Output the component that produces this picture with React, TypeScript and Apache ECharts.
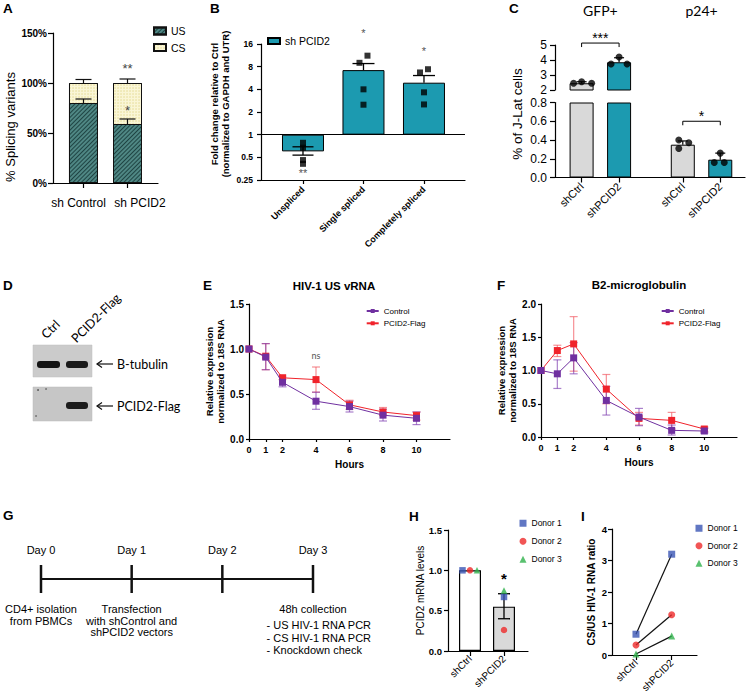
import React, { useEffect, useRef } from 'react';
import * as echarts from 'echarts';

const FONT = '"Liberation Sans", Arial, Helvetica, sans-serif';
const FONT_H = 'Lato, "Open Sans", "Liberation Sans", sans-serif';

// ---------- Panel A ----------
const aCategories = ['sh Control', 'sh PCID2'];
const aUS = [80, 59];
const aCS = [20, 41];
const aUSErrTop = [84, 64];
const aTotalErrTop = [103.5, 104];
const aStarCat = [1, 1];
const aStarY = [115, 73];
const aStarText = ['**', '*'];

// ---------- Panel B ----------
const bCategories = ['Unspliced', 'Single spliced', 'Completely spliced'];
const bMeans = [0.6, 7.2, 4.9];
const bErrLow = [0.535, 7.2, 4.9];
const bErrHigh = [0.69, 8.8, 6.1];
const bPoints = [
  [0.78, 0.67, 0.46, 0.41],
  [11.2, 9.0, 4.0, 2.5],
  [6.7, 7.4, 3.65, 2.52],
];
const bStarText = ['**', '*', '*'];
const bStarY = [0.31, 22.5, 12.8];

// ---------- Panel C ----------
const cCategories = ['shCtrl', 'shPCID2', 'shCtrl', 'shPCID2'];
const cGroups = ['GFP+', 'p24+'];
const cMeans = [2.45, 3.85, 0.35, 0.19];
const cErrHigh = [2.55, 4.15, 0.39, 0.26];
const cPoints = [
  [2.45, 2.55, 2.45],
  [3.73, 4.2, 3.73],
  [0.4, 0.37, 0.31],
  [0.16, 0.26, 0.16],
];
const cStars = ['***', '*'];

// ---------- Panel D ----------
const dLanes = ['Ctrl', 'PCID2-Flag'];
const dTargets = ['B-tubulin', 'PCID2-Flag'];

// ---------- Panels E / F ----------
const hours = [0, 1, 2, 4, 6, 8, 10];
const efNames = ['Control', 'PCID2-Flag'];
const eControl = [1.0, 0.91, 0.63, 0.42, 0.36, 0.265, 0.23];
const eControlLo = [1.0, 0.77, 0.58, 0.33, 0.3, 0.2, 0.16];
const eControlHi = [1.0, 1.06, 0.69, 0.52, 0.42, 0.33, 0.3];
const ePCID2 = [1.0, 0.92, 0.68, 0.66, 0.38, 0.3, 0.26];
const ePCID2Lo = [1.0, 0.77, 0.66, 0.52, 0.33, 0.26, 0.21];
const ePCID2Hi = [1.0, 1.06, 0.71, 0.8, 0.43, 0.35, 0.3];
const fControl = [1.0, 0.95, 1.19, 0.55, 0.3, 0.1, 0.09];
const fControlLo = [1.0, 0.73, 0.95, 0.33, 0.17, 0.03, 0.06];
const fControlHi = [1.0, 1.16, 1.42, 0.76, 0.43, 0.18, 0.13];
const fPCID2 = [1.0, 1.3, 1.4, 0.72, 0.28, 0.25, 0.12];
const fPCID2Lo = [1.0, 1.21, 0.99, 0.5, 0.18, 0.12, 0.08];
const fPCID2Hi = [1.0, 1.38, 1.81, 0.94, 0.37, 0.37, 0.15];

// ---------- Panel G ----------
const gDays = ['Day 0', 'Day 1', 'Day 2', 'Day 3'];
const gNotes = ['CD4+ isolation\nfrom PBMCs', 'Transfection\nwith shControl and\nshPCID2 vectors', '', '48h collection'];
const gList = ['- US HIV-1 RNA PCR', '- CS HIV-1 RNA PCR', '- Knockdown check'];

// ---------- Panels H / I ----------
const hCategories = ['shCtrl', 'shPCID2'];
const donors = ['Donor 1', 'Donor 2', 'Donor 3'];
const hMeans = [1.0, 0.55];
const hErrLow = [1.0, 0.4];
const hErrHigh = [1.0, 0.71];
const hDonorValues = [
  [1.0, 0.67],
  [1.0, 0.26],
  [1.0, 0.75],
];
const iDonorValues = [
  [0.66, 3.2],
  [0.32, 1.28],
  [0.03, 0.6],
];

// ---------- styling ----------
const TEAL = '#1c9ab0';
const GREY = '#d9d9d9';
const PURPLE = '#7030a0';
const RED = '#f0232b';
const donorColors = ['#3a55b4', '#ee2b2b', '#2fb14b'];
const donorSymbols = ['rect', 'circle', 'triangle'];
const LINE = { color: '#000', width: 1.2 };

const catFmt = (pos: number[], names: string[]) => (v: number) => {
  const i = pos.findIndex((p) => Math.abs(p - v) < 1e-6);
  return i >= 0 ? names[i] : '';
};

function mkAxis(gridIndex: number, o: any) {
  const base: any = {
    gridIndex,
    type: 'value',
    splitLine: { show: false },
    axisLine: { show: true, onZero: false, lineStyle: LINE },
    axisTick: { show: true, length: 4, lineStyle: LINE },
    axisLabel: { color: '#000', fontFamily: FONT, hideOverlap: false },
    nameTextStyle: { color: '#000', fontFamily: FONT },
    nameMoveOverlap: false,
  };
  Object.keys(o).forEach((k) => {
    if (base[k] && typeof base[k] === 'object' && o[k] && typeof o[k] === 'object' && !Array.isArray(o[k])) {
      base[k] = { ...base[k], ...o[k] };
    } else base[k] = o[k];
  });
  return base;
}

function ts(text: string, s: any = {}, align = 'center', vAlign = 'middle') {
  const fill = s.fill || '#000';
  return {
    text,
    fontFamily: FONT,
    align,
    textAlign: align,
    verticalAlign: vAlign,
    textVerticalAlign: vAlign,
    ...s,
    fill,
    textFill: fill,
  };
}

function errorBars(xi: number, yi: number, data: number[][], color: string, capW: number, lw: number, capLow: boolean, z = 4) {
  return {
    type: 'custom',
    xAxisIndex: xi,
    yAxisIndex: yi,
    silent: true,
    z,
    data,
    encode: { x: 0, y: [1, 2] },
    renderItem: (params: any, api: any) => {
      const x = api.value(0);
      const a = api.coord([x, api.value(1)]);
      const b = api.coord([x, api.value(2)]);
      const st = { stroke: color, lineWidth: lw };
      const ch: any[] = [
        { type: 'line', shape: { x1: a[0], y1: a[1], x2: b[0], y2: b[1] }, style: st },
        { type: 'line', shape: { x1: b[0] - capW / 2, y1: b[1], x2: b[0] + capW / 2, y2: b[1] }, style: st },
      ];
      if (capLow) ch.push({ type: 'line', shape: { x1: a[0] - capW / 2, y1: a[1], x2: a[0] + capW / 2, y2: a[1] }, style: st });
      return { type: 'group', children: ch };
    },
  };
}

function texts(xi: number, yi: number, xs: number[], ys: number[], labels: string[], s: any) {
  return {
    type: 'custom',
    xAxisIndex: xi,
    yAxisIndex: yi,
    silent: true,
    z: 10,
    data: xs.map((x, i) => [x, ys[i]]),
    encode: { x: 0, y: 1 },
    renderItem: (params: any, api: any) => {
      const p = api.coord([api.value(0), api.value(1)]);
      return { type: 'text', x: p[0], y: p[1], style: ts(labels[params.dataIndex], s) };
    },
  };
}

function brackets(xi: number, yi: number, data: number[][], drop: number) {
  return {
    type: 'custom',
    xAxisIndex: xi,
    yAxisIndex: yi,
    silent: true,
    z: 6,
    data,
    encode: { x: [0, 1], y: 2 },
    renderItem: (params: any, api: any) => {
      const p0 = api.coord([api.value(0), api.value(2)]);
      const p1 = api.coord([api.value(1), api.value(2)]);
      return {
        type: 'polyline',
        shape: { points: [[p0[0], p0[1] + drop], p0, p1, [p1[0], p1[1] + drop]] },
        style: { stroke: '#000', lineWidth: 1, fill: 'none' },
      };
    },
  };
}

function buildOption() {
  const log2 = Math.log2;
  const series: any[] = [];
  const grid = [
    { left: 53, top: 33, width: 105, height: 150 }, // A
    { left: 261, top: 44, width: 204, height: 136 }, // B
    { left: 555, top: 45, width: 190, height: 45 }, // C upper
    { left: 555, top: 102.5, width: 190, height: 75 }, // C lower
    { left: 249, top: 304, width: 201, height: 135 }, // E
    { left: 541, top: 304, width: 196, height: 133 }, // F
    { left: 41, top: 565, width: 272, height: 28 }, // G
    { left: 448, top: 530, width: 80, height: 121 }, // H
    { left: 612, top: 529, width: 85, height: 126 }, // I
  ].map((g) => ({ ...g, containLabel: false, outerBoundsMode: 'none' }));

  const aX = [0, 1];
  const bX = [0, 1, 2];
  const cX = [0, 1, 2.7, 3.7];
  const hX = [0, 1];
  const f1 = (v: number) => v.toFixed(1);
  const aLabelFmt = (v: number) => {
    const i = aX.findIndex((p) => Math.abs(p - v) < 1e-6);
    if (i < 0) return '';
    return `{${i === 0 ? 'l' : 'r'}|${aCategories[i]}}`;
  };

  const xAxis = [
    mkAxis(0, {
      min: -0.693, max: 1.693,
      axisTick: { customValues: aX, length: 5 },
      axisLabel: {
        customValues: aX, formatter: aLabelFmt, fontSize: 12, margin: 14,
        rich: {
          l: { fontSize: 12, fontFamily: FONT, color: '#000', padding: [0, 10, 0, 0] },
          r: { fontSize: 12, fontFamily: FONT, color: '#000', padding: [0, 0, 0, 25] },
        },
      },
    }),
    mkAxis(1, {
      min: -0.694, max: 2.678,
      axisTick: { customValues: bX, length: 4 },
      axisLabel: { customValues: bX, formatter: catFmt(bX, bCategories), rotate: 45, fontSize: 9, fontWeight: 'bold', margin: 8 },
    }),
    mkAxis(2, { min: -0.71, max: 4.36, show: false }),
    mkAxis(3, {
      min: -0.71, max: 4.36,
      axisTick: { customValues: cX, length: 5 },
      axisLabel: { customValues: cX, formatter: catFmt(cX, cCategories), rotate: 45, fontSize: 11, margin: 7 },
    }),
    mkAxis(4, {
      min: 0, max: 12,
      axisTick: { customValues: hours, length: 3 },
      axisLabel: { customValues: hours, fontSize: 9, fontWeight: 'bold', margin: 6 },
      name: 'Hours', nameLocation: 'middle', nameGap: 20,
      nameTextStyle: { fontSize: 10, fontWeight: 'bold' },
    }),
    mkAxis(5, {
      min: 0, max: 12,
      axisTick: { customValues: hours, length: 3 },
      axisLabel: { customValues: hours, fontSize: 9, fontWeight: 'bold', margin: 6 },
      name: 'Hours', nameLocation: 'middle', nameGap: 20,
      nameTextStyle: { fontSize: 10, fontWeight: 'bold' },
    }),
    { gridIndex: 6, type: 'value', min: 0, max: 3, show: false },
    mkAxis(7, {
      min: -0.647, max: 1.706,
      axisTick: { customValues: hX, length: 5 },
      axisLabel: { customValues: hX, formatter: catFmt(hX, hCategories), rotate: 45, fontSize: 10, margin: 6 },
    }),
    mkAxis(8, {
      min: -0.672, max: 1.709,
      axisTick: { customValues: hX, length: 5 },
      axisLabel: { customValues: hX, formatter: catFmt(hX, hCategories), rotate: 45, fontSize: 10, margin: 6 },
    }),
  ];

  const yAxis = [
    mkAxis(0, { min: 0, max: 150, interval: 50, axisTick: { length: 5 }, axisLabel: { formatter: '{value}%', fontSize: 10, fontWeight: 'bold', margin: 6 } }),
    mkAxis(1, { min: -2, max: 4, interval: 1, axisLabel: { formatter: (v: number) => String(Math.pow(2, v)), fontSize: 8.5, fontWeight: 'bold', margin: 8 } }),
    mkAxis(2, { min: 2, max: 5, interval: 1, axisTick: { length: 5 }, axisLabel: { fontSize: 12, margin: 8 } }),
    mkAxis(3, { min: 0, max: 0.8, interval: 0.2, axisTick: { length: 5 }, axisLabel: { formatter: f1, fontSize: 12, margin: 8 } }),
    mkAxis(4, {
      min: 0, max: 1.5, interval: 0.5, axisTick: { length: 3 },
      axisLabel: { formatter: f1, fontSize: 10, fontWeight: 'bold', margin: 5 },
      name: 'Relative expression\nnormalized to 18S RNA', nameLocation: 'middle', nameGap: 23, nameRotate: 90,
      nameTextStyle: { fontSize: 9.5, fontWeight: 'bold', lineHeight: 11 },
    }),
    mkAxis(5, {
      min: 0, max: 2, interval: 0.5, axisTick: { length: 3 },
      axisLabel: { formatter: f1, fontSize: 10, fontWeight: 'bold', margin: 5 },
      name: 'Relative expression\nnormalized to 18S RNA', nameLocation: 'middle', nameGap: 23, nameRotate: 90,
      nameTextStyle: { fontSize: 9.5, fontWeight: 'bold', lineHeight: 11 },
    }),
    { gridIndex: 6, type: 'value', min: -1, max: 1, show: false },
    mkAxis(7, {
      min: 0, max: 1.5, interval: 0.5,
      axisLabel: { formatter: f1, fontSize: 9.5, fontWeight: 'bold', margin: 6 },
      name: 'PCID2 mRNA levels', nameLocation: 'middle', nameGap: 23, nameRotate: 90,
      nameTextStyle: { fontSize: 10 },
    }),
    mkAxis(8, {
      min: 0, max: 4, interval: 1,
      axisLabel: { fontSize: 9.5, fontWeight: 'bold', margin: 5 },
      name: 'CS/US HIV-1 RNA ratio', nameLocation: 'middle', nameGap: 16, nameRotate: 90,
      nameTextStyle: { fontSize: 10, fontWeight: 'bold' },
    }),
  ];

  // ----- A : CS drawn as the full stack height, US overlaid from 0 -----
  series.push({
    type: 'bar', name: 'CS', xAxisIndex: 0, yAxisIndex: 0, barWidth: 29, barGap: '-100%', z: 2,
    data: aCS.map((v, i) => [aX[i], aUS[i] + v]),
    itemStyle: {
      color: '#faf6d6', borderColor: '#111', borderWidth: 1,
      decal: { symbol: 'circle', symbolSize: 0.6, color: 'rgba(215,200,110,0.8)', dashArrayX: [2, 1], dashArrayY: [2, 1], rotation: 0 },
    },
  });
  series.push({
    type: 'bar', name: 'US', xAxisIndex: 0, yAxisIndex: 0, barWidth: 29, barGap: '-100%', z: 3,
    data: aUS.map((v, i) => [aX[i], v]),
    itemStyle: {
      color: '#4f8784', borderColor: '#111', borderWidth: 1,
      decal: { symbol: 'rect', symbolSize: 1, color: 'rgba(15,45,45,0.75)', dashArrayX: [1, 0], dashArrayY: [1, 2], rotation: -Math.PI / 4 },
    },
  });
  series.push(errorBars(0, 0, aUS.map((v, i) => [aX[i], v, aUSErrTop[i]]), '#111', 16, 1.2, false, 5));
  series.push(errorBars(0, 0, aUS.map((v, i) => [aX[i], v + aCS[i], aTotalErrTop[i]]), '#111', 16, 1.2, false, 5));
  series.push(texts(0, 0, aStarCat, aStarY, aStarText, { fontSize: 13, fill: '#444' }));

  // ----- B -----
  series.push({
    type: 'bar', name: 'sh PCID2', xAxisIndex: 1, yAxisIndex: 1, barWidth: 42,
    data: bMeans.map((v, i) => [bX[i], log2(v)]),
    itemStyle: { color: TEAL, borderColor: '#000', borderWidth: 1 },
    markLine: {
      silent: true, symbol: 'none', label: { show: false },
      lineStyle: { color: '#000', width: 1.2, type: 'solid' },
      data: [{ yAxis: 0 }],
    },
  });
  series.push(errorBars(1, 1, [[bX[0], log2(bErrLow[0]), log2(bErrHigh[0])]], '#000', 21, 1.3, true, 6));
  series.push(errorBars(1, 1, [1, 2].map((i) => [bX[i], log2(bErrLow[i]), log2(bErrHigh[i])]), '#000', 22, 1.3, false, 6));
  const bJitterPx = [[0, 0, 0, 0], [4, -4, 0, 0], [-4, 4, 0, 0]];
  const bPts: number[][] = [];
  bPoints.forEach((arr, i) => arr.forEach((v, j) => bPts.push([bX[i] + bJitterPx[i][j] / 60.5, log2(v)])));
  series.push({
    type: 'scatter', xAxisIndex: 1, yAxisIndex: 1, symbol: 'rect', symbolSize: 6, z: 7,
    itemStyle: { color: '#000' }, data: bPts,
  });
  series.push(texts(1, 1, bX, bStarY.map((v) => log2(v)), bStarText, { fontSize: 11, fill: '#555' }));

  // ----- C -----
  const cColors = [GREY, TEAL, GREY, TEAL];
  series.push({
    type: 'bar', xAxisIndex: 2, yAxisIndex: 2, barWidth: 24, clip: true,
    data: [0, 1].map((i) => ({ value: [cX[i], cMeans[i]], itemStyle: { color: cColors[i] } })),
    itemStyle: { borderColor: '#000', borderWidth: 1 },
  });
  series.push({
    type: 'bar', xAxisIndex: 3, yAxisIndex: 3, barWidth: 24, clip: true,
    data: cMeans.map((v, i) => ({ value: [cX[i], Math.min(v, 0.8)], itemStyle: { color: cColors[i] } })),
    itemStyle: { borderColor: '#000', borderWidth: 1 },
  });
  series.push(errorBars(2, 2, [0, 1].map((i) => [cX[i], cMeans[i], cErrHigh[i]]), '#000', 10, 1.2, false, 5));
  series.push(errorBars(3, 3, [2, 3].map((i) => [cX[i], cMeans[i], cErrHigh[i]]), '#000', 10, 1.2, false, 5));
  const cJitterPx = [[-8, 0, 10], [-8, 0, 8], [-4, 6, -4], [-6, 0, 4]];
  const cUp: number[][] = [];
  const cLow: number[][] = [];
  cPoints.forEach((arr, i) =>
    arr.forEach((v, j) => {
      const p = [cX[i] + cJitterPx[i][j] / 37.47, v];
      if (v >= 2) cUp.push(p);
      else if (v <= 0.8) cLow.push(p);
    })
  );
  series.push({ type: 'scatter', xAxisIndex: 2, yAxisIndex: 2, symbol: 'circle', symbolSize: 7, z: 7, itemStyle: { color: '#000' }, data: cUp });
  series.push({ type: 'scatter', xAxisIndex: 3, yAxisIndex: 3, symbol: 'circle', symbolSize: 7, z: 7, itemStyle: { color: '#000' }, data: cLow });
  series.push(brackets(2, 2, [[cX[0], cX[1], 5.13]], 4));
  series.push(brackets(3, 3, [[cX[2], cX[3], 0.6]], 4));
  series.push(texts(2, 2, [(cX[0] + cX[1]) / 2], [5.5], [cStars[0]], { fontSize: 14 }));
  series.push(texts(3, 3, [(cX[2] + cX[3]) / 2], [0.655], [cStars[1]], { fontSize: 14 }));
  series.push(texts(2, 2, [(cX[0] + cX[1]) / 2, (cX[2] + cX[3]) / 2], [7.33, 7.33], cGroups, { fontSize: 14, fontFamily: FONT_H }));

  // ----- E / F -----
  const efData = [
    { xi: 4, c: eControl, cLo: eControlLo, cHi: eControlHi, p: ePCID2, pLo: ePCID2Lo, pHi: ePCID2Hi },
    { xi: 5, c: fControl, cLo: fControlLo, cHi: fControlHi, p: fPCID2, pLo: fPCID2Lo, pHi: fPCID2Hi },
  ];
  efData.forEach((d) => {
    const rng = (lo: number[], hi: number[]) => hours.map((h, i) => [h, lo[i], hi[i]]).filter((r) => r[2] > r[1]);
    series.push(errorBars(d.xi, d.xi, rng(d.pLo, d.pHi), 'rgba(240,70,80,0.6)', 8, 1.2, true, 1));
    series.push(errorBars(d.xi, d.xi, rng(d.cLo, d.cHi), 'rgba(125,60,175,0.65)', 8, 1.2, true, 1));
    series.push({
      type: 'line', name: efNames[1], xAxisIndex: d.xi, yAxisIndex: d.xi, z: 3,
      data: hours.map((h, i) => [h, d.p[i]]), symbol: 'rect', symbolSize: 7,
      itemStyle: { color: RED }, lineStyle: { color: RED, width: 1 },
    });
    series.push({
      type: 'line', name: efNames[0], xAxisIndex: d.xi, yAxisIndex: d.xi, z: 4,
      data: hours.map((h, i) => [h, d.c[i]]), symbol: 'rect', symbolSize: 7,
      itemStyle: { color: PURPLE }, lineStyle: { color: PURPLE, width: 1 },
    });
  });
  series.push(texts(4, 4, [4], [0.93], ['ns'], { fontSize: 9, fill: '#555', fontFamily: FONT_H }));

  // ----- G -----
  series.push({
    type: 'line', xAxisIndex: 6, yAxisIndex: 6, symbol: 'none', silent: true,
    data: gDays.map((_, i) => [i, 0]), lineStyle: { color: '#111', width: 2 },
  });
  series.push({
    type: 'custom', xAxisIndex: 6, yAxisIndex: 6, silent: true,
    data: gDays.map((_, i) => [i, 0]), encode: { x: 0, y: 1 },
    renderItem: (params: any, api: any) => {
      const i = params.dataIndex;
      const top = api.coord([i, 1]);
      const bot = api.coord([i, -1]);
      const ch: any[] = [
        { type: 'line', shape: { x1: top[0], y1: top[1], x2: bot[0], y2: bot[1] }, style: { stroke: '#111', lineWidth: 2.5 } },
        { type: 'text', x: top[0], y: top[1] - 15, style: ts(gDays[i], { fontSize: 11 }) },
        { type: 'text', x: bot[0], y: bot[1] + 10.5, style: ts(gNotes[i], { fontSize: 11, lineHeight: 11.4 }, 'center', 'top') },
      ];
      if (i === gDays.length - 1) {
        ch.push({ type: 'text', x: bot[0] - 46.5, y: bot[1] + 26, style: ts(gList.join('\n'), { fontSize: 11, lineHeight: 12.4 }, 'left', 'top') });
      }
      return { type: 'group', children: ch };
    },
  });

  // ----- H -----
  const hBarColors = ['#ffffff', GREY];
  series.push({
    type: 'bar', xAxisIndex: 7, yAxisIndex: 7, barWidth: 22,
    data: hMeans.map((v, i) => ({ value: [hX[i], v], itemStyle: { color: hBarColors[i] } })),
    itemStyle: { borderColor: '#000', borderWidth: 1.2 },
  });
  series.push(errorBars(7, 7, [[hX[1], hErrLow[1], hErrHigh[1]]], '#000', 12, 1.3, true, 4));
  const hJitterPx = [[-7.5, 0], [0, 0], [7, 0]];
  donors.forEach((name, k) => {
    series.push({
      type: 'scatter', name, xAxisIndex: 7, yAxisIndex: 7, symbol: donorSymbols[k], symbolSize: 6.5, z: 6,
      itemStyle: { color: donorColors[k] },
      data: hDonorValues[k].map((v, i) => [hX[i] + hJitterPx[k][i] / 34, v]),
    });
  });
  series.push(texts(7, 7, [hX[1]], [0.9], ['*'], { fontSize: 15, fontWeight: 'bold' }));

  // ----- I -----
  donors.forEach((name, k) => {
    series.push({
      type: 'line', xAxisIndex: 8, yAxisIndex: 8, symbol: 'none', silent: true, z: 2,
      data: iDonorValues[k].map((v, i) => [hX[i], v]), lineStyle: { color: '#111', width: 1.2 },
    });
  });
  donors.forEach((name, k) => {
    series.push({
      type: 'scatter', name, xAxisIndex: 8, yAxisIndex: 8, symbol: donorSymbols[k], symbolSize: 7, z: 6,
      itemStyle: { color: donorColors[k] },
      data: iDonorValues[k].map((v, i) => [hX[i], v]),
    });
  });

  const legBase = { orient: 'vertical', padding: 0, selectedMode: false };
  const legend = [
    { ...legBase, data: [{ name: 'US', icon: 'rect' }, { name: 'CS', icon: 'rect' }], left: 153, top: 25.5, itemWidth: 12, itemHeight: 7, itemGap: 5.5, textStyle: { fontSize: 10.5, fontFamily: FONT, color: '#000' } },
    { ...legBase, data: [{ name: 'sh PCID2', icon: 'rect' }], left: 267, top: 35.5, itemWidth: 12, itemHeight: 6, textStyle: { fontSize: 10.5, fontFamily: FONT, color: '#000' } },
    { ...legBase, data: efNames, left: 365.7, top: 307, itemWidth: 12, itemHeight: 5, itemGap: 4.3, textStyle: { fontSize: 8, fontFamily: FONT, color: '#000' } },
    { ...legBase, data: efNames, left: 660.7, top: 307, itemWidth: 12, itemHeight: 5, itemGap: 4.3, textStyle: { fontSize: 8, fontFamily: FONT, color: '#000' } },
    { ...legBase, data: donors.map((d, k) => ({ name: d, icon: donorSymbols[k] })), left: 519.5, top: 518.75, itemWidth: 7, itemHeight: 7, itemGap: 9, textStyle: { fontSize: 8.5, fontFamily: FONT, color: '#000' } },
    { ...legBase, data: donors.map((d, k) => ({ name: d, icon: donorSymbols[k] })), left: 695.5, top: 523.75, itemWidth: 7, itemHeight: 7, itemGap: 8.5, textStyle: { fontSize: 8.5, fontFamily: FONT, color: '#000' } },
  ];

  // ----- graphic: panel letters, titles, blot -----
  const letter = (t: string, x: number, y: number) => ({
    type: 'text', x, y, style: ts(t, { fontSize: 13.5, fontWeight: 'bold', fontFamily: FONT }, 'left', 'top'),
  });
  const graphic: any[] = [
    letter('A', 3, 1), letter('B', 210, 1), letter('C', 509, 1),
    letter('D', 3, 278), letter('E', 203, 278), letter('F', 497, 278),
    letter('G', 3, 508), letter('H', 409, 509), letter('I', 581, 509),
    { type: 'text', x: 10, y: 127, rotation: Math.PI / 2, style: ts('% Splicing variants', { fontSize: 13 }) },
    { type: 'text', x: 220, y: 104, rotation: Math.PI / 2, style: ts('Fold change relative to Ctrl\n(normalized to GAPDH and UTR)', { fontSize: 9.5, fontWeight: 'bold', lineHeight: 10.5 }) },
    { type: 'text', x: 517, y: 114, rotation: Math.PI / 2, style: ts('% of J-Lat cells', { fontSize: 13.5 }) },
    { type: 'text', x: 334, y: 286, style: ts('HIV-1 US vRNA', { fontSize: 11.5, fontWeight: 'bold' }) },
    { type: 'text', x: 639, y: 285, style: ts('B2-microglobulin', { fontSize: 11.5, fontWeight: 'bold' }) },
    // western blot
    { type: 'rect', shape: { x: 33, y: 345, width: 59, height: 32 }, style: { fill: '#cbcbcb', stroke: '#bdbdbd', lineWidth: 0.5 } },
    { type: 'rect', shape: { x: 37, y: 361, width: 23, height: 7, r: 3 }, style: { fill: '#141414' } },
    { type: 'rect', shape: { x: 66, y: 361, width: 22, height: 7, r: 3 }, style: { fill: '#1a1a1a' } },
    { type: 'rect', shape: { x: 33, y: 387, width: 59, height: 34 }, style: { fill: '#c6c6c6', stroke: '#b8b8b8', lineWidth: 0.5 } },
    { type: 'rect', shape: { x: 66, y: 402, width: 22, height: 7, r: 3 }, style: { fill: '#1c1c1c' } },
    { type: 'circle', shape: { cx: 38, cy: 390, r: 0.9 }, style: { fill: '#555' } },
    { type: 'circle', shape: { cx: 46, cy: 389, r: 0.8 }, style: { fill: '#666' } },
    { type: 'circle', shape: { cx: 36, cy: 416, r: 0.8 }, style: { fill: '#666' } },
    { type: 'text', x: 48, y: 341, rotation: Math.PI / 4, style: ts(dLanes[0], { fontSize: 12.5, fontFamily: FONT_H }, 'left', 'bottom') },
    { type: 'text', x: 78, y: 345, rotation: Math.PI / 4, style: ts(dLanes[1], { fontSize: 12.5, fontFamily: FONT_H }, 'left', 'bottom') },
  ];
  [364, 406].forEach((y, k) => {
    graphic.push({ type: 'line', shape: { x1: 97, y1: y, x2: 113, y2: y }, style: { stroke: '#111', lineWidth: 1.2 } });
    graphic.push({ type: 'polyline', shape: { points: [[102, y - 3.5], [97, y], [102, y + 3.5]] }, style: { stroke: '#111', lineWidth: 1.2, fill: 'none' } });
    graphic.push({ type: 'text', x: 117, y, style: ts(dTargets[k], { fontSize: 12.5, fontFamily: FONT_H }, 'left', 'middle') });
  });

  return {
    animation: false,
    backgroundColor: '#ffffff',
    textStyle: { fontFamily: FONT },
    grid,
    xAxis,
    yAxis,
    legend,
    series,
    graphic,
  };
}

export default function App() {
  const ref = useRef<HTMLDivElement>(null);
  useEffect(() => {
    if (!ref.current) return;
    const chart = echarts.init(ref.current, null, { renderer: 'svg' });
    chart.setOption(buildOption() as any);
    return () => chart.dispose();
  }, []);
  return (
    <div
      ref={ref}
      style={{ position: 'fixed', left: 0, top: 0, width: 747, height: 694, background: '#fff' }}
    />
  );
}
